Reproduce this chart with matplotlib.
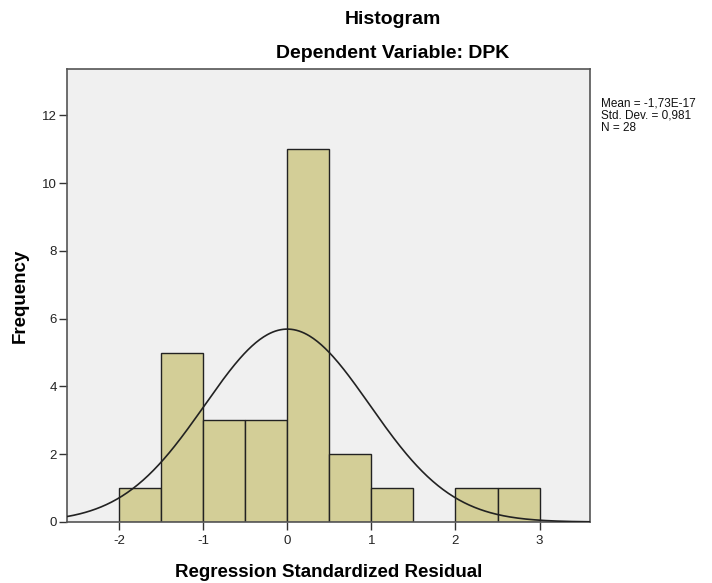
import numpy as np
import matplotlib
matplotlib.use("Agg")
import matplotlib.pyplot as plt

plt.rcParams['font.family'] = ['Liberation Sans', 'DejaVu Sans']
plt.rcParams['axes.unicode_minus'] = False

bin_edges = [-2.0, -1.5, -1.0, -0.5, 0.0, 0.5, 1.0, 1.5, 2.0, 2.5, 3.0]
counts = [1, 5, 3, 3, 11, 2, 1, 0, 1, 1]
mean = -1.73e-17
std = 0.981
n = 28
x_ticks = [-2, -1, 0, 1, 2, 3]
y_ticks = [0, 2, 4, 6, 8, 10, 12]

fig = plt.figure(figsize=(7.12, 5.83), dpi=100)
ax = fig.add_axes([67/712, 1-522/583, (590-67)/712, (522-69)/583])
ax.set_facecolor('#F0F0F0')

edges = np.array(bin_edges)
widths = np.diff(edges)
for left, w, c in zip(edges[:-1], widths, counts):
    if c > 0:
        ax.bar(left, c, width=w, align='edge', color='#D3CE97',
               edgecolor='#222222', linewidth=1.0, zorder=2)

xlim = (-2.62, 3.6)
ax.set_xlim(*xlim)
ax.set_ylim(0, 13.37)
xs = np.linspace(xlim[0], xlim[1], 400)
bw = widths[0]
ys = n * bw / (std * np.sqrt(2*np.pi)) * np.exp(-0.5*((xs-mean)/std)**2)
ax.plot(xs, ys, color='#222222', linewidth=1.2, zorder=3)

ax.set_xticks(x_ticks)
ax.set_yticks(y_ticks)
ax.tick_params(axis='both', labelsize=9.5, length=5.5, width=1, color='#333333',
               labelcolor='#222222', pad=2)
ax.tick_params(axis='x', pad=4)
for s in ax.spines.values():
    s.set_color('#555555')
    s.set_linewidth(1.2)

ax.set_xlabel('Regression Standardized Residual', fontsize=13.5, fontweight='bold', labelpad=12)
ax.set_ylabel('Frequency', fontsize=13.5, fontweight='bold', labelpad=9)

fig.text(393/712, 1-20/583, 'Histogram', ha='center', va='center', fontsize=14, fontweight='bold')
fig.text(393/712, 1-54/583, 'Dependent Variable: DPK', ha='center', va='center', fontsize=14, fontweight='bold')

fig.text(601/712, 1-97/583, 'Mean = -1,73E-17\nStd. Dev. = 0,981\nN = 28',
         ha='left', va='top', fontsize=8.5, linespacing=1.05, color='#111111')

fig.savefig('out.png', dpi=100, facecolor='white')
